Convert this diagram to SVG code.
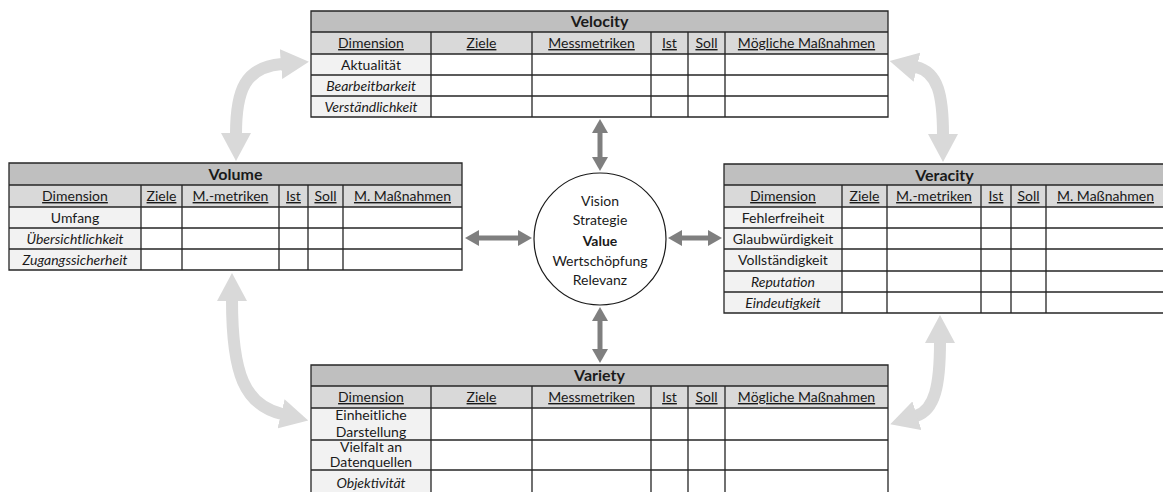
<svg xmlns="http://www.w3.org/2000/svg" width="1163" height="492" viewBox="0 0 1163 492">
  <style>
    .t { font-family: Lato, "Liberation Sans", sans-serif; font-size: 14px; fill: #1a1a1a; text-anchor: middle; }
    .h { text-decoration: underline; }
    .i { font-style: italic; }
    .ttl { font-weight: bold; font-size: 16px; }
    .ft { fill: #bfbfbf; }
    .fh { fill: #d9d9d9; }
    .fd { fill: #f2f2f2; }
    .fw { fill: #ffffff; }
    .grid { fill: none; stroke: #262626; stroke-width: 1.3; }
    .dark { fill: none; stroke: #7f7f7f; stroke-width: 5; marker-start: url(#hd); marker-end: url(#hd); }
    .light { fill: none; stroke: #d9d9d9; stroke-width: 12; marker-start: url(#hl); marker-end: url(#hl); }
  </style>
  <defs>
    <marker id="hd" viewBox="0 0 14 16" refX="1" refY="8" markerWidth="14" markerHeight="16" markerUnits="userSpaceOnUse" orient="auto-start-reverse">
      <path d="M0,0 L14,8 L0,16 Z" fill="#7f7f7f"/>
    </marker>
    <marker id="hl" viewBox="0 0 28 30" refX="1" refY="15" markerWidth="28" markerHeight="30" markerUnits="userSpaceOnUse" orient="auto-start-reverse">
      <path d="M0,0 L28,15 L0,30 Z" fill="#d9d9d9"/>
    </marker>
  </defs>

  <!-- connectors -->
  <g id="connectors">
    <path class="light" d="M236,134 C236,90 245,67 282,64"/>
    <path class="light" d="M232,300 C232,375 245,405 282,414"/>
    <path class="light" d="M943,135 C943,95 938,72 916,67"/>
    <path class="light" d="M940,342 C940,385 935,410 916,416"/>
    <path class="dark" d="M600,132 V158"/>
    <path class="dark" d="M600,320 V350"/>
    <path class="dark" d="M478,238 H519"/>
    <path class="dark" d="M681,238 H709"/>
  </g>

  <!-- Velocity -->
  <g id="velocity">
    <rect class="ft" x="311" y="11" width="577" height="21"/>
    <rect class="fh" x="311" y="32" width="577" height="22"/>
    <rect class="fd" x="311" y="54" width="120" height="63"/>
    <rect class="fw" x="431" y="54" width="457" height="63"/>
    <path class="grid" d="M311,11 H888 V117 H311 Z M311,32 H888 M311,54 H888 M311,75 H888 M311,96 H888 M431,32 V117 M532,32 V117 M651,32 V117 M688,32 V117 M725,32 V117"/>
    <text class="t ttl" x="599.5" y="27">Velocity</text>
    <text class="t h" x="371" y="48">Dimension</text>
    <text class="t h" x="481.5" y="48">Ziele</text>
    <text class="t h" x="591.5" y="48">Messmetriken</text>
    <text class="t h" x="669.5" y="48">Ist</text>
    <text class="t h" x="706.5" y="48">Soll</text>
    <text class="t h" x="806.5" y="48">Mögliche Maßnahmen</text>
    <text class="t" x="371" y="69.5">Aktualität</text>
    <text class="t i" x="371" y="90.5">Bearbeitbarkeit</text>
    <text class="t i" x="371" y="111.5">Verständlichkeit</text>
  </g>

  <!-- Volume -->
  <g id="volume">
    <rect class="ft" x="9" y="163" width="453" height="22"/>
    <rect class="fh" x="9" y="185" width="453" height="22"/>
    <rect class="fd" x="9" y="207" width="132" height="63"/>
    <rect class="fw" x="141" y="207" width="321" height="63"/>
    <path class="grid" d="M9,163 H462 V270 H9 Z M9,185 H462 M9,207 H462 M9,228 H462 M9,249 H462 M141,185 V270 M182,185 V270 M279,185 V270 M308,185 V270 M343,185 V270"/>
    <text class="t ttl" x="235.5" y="180">Volume</text>
    <text class="t h" x="75" y="201">Dimension</text>
    <text class="t h" x="161.5" y="201">Ziele</text>
    <text class="t h" x="230.5" y="201">M.-metriken</text>
    <text class="t h" x="293.5" y="201">Ist</text>
    <text class="t h" x="325.5" y="201">Soll</text>
    <text class="t h" x="402.5" y="201">M. Maßnahmen</text>
    <text class="t" x="75" y="222.5">Umfang</text>
    <text class="t i" x="75" y="243.5">Übersichtlichkeit</text>
    <text class="t i" x="75" y="264.5">Zugangssicherheit</text>
  </g>

  <!-- Veracity -->
  <g id="veracity">
    <rect class="ft" x="724" y="164" width="441" height="21"/>
    <rect class="fh" x="724" y="185" width="441" height="22"/>
    <rect class="fd" x="724" y="207" width="118" height="106"/>
    <rect class="fw" x="842" y="207" width="323" height="106"/>
    <path class="grid" d="M1165,164 H724 V313 H1165 M724,185 H1165 M724,207 H1165 M724,228 H1165 M724,249 H1165 M724,271 H1165 M724,292 H1165 M842,185 V313 M887,185 V313 M981,185 V313 M1011,185 V313 M1046,185 V313"/>
    <text class="t ttl" x="944.5" y="180.5">Veracity</text>
    <text class="t h" x="783" y="201">Dimension</text>
    <text class="t h" x="864.5" y="201">Ziele</text>
    <text class="t h" x="934" y="201">M.-metriken</text>
    <text class="t h" x="996" y="201">Ist</text>
    <text class="t h" x="1028.5" y="201">Soll</text>
    <text class="t h" x="1105.5" y="201">M. Maßnahmen</text>
    <text class="t" x="783" y="222.5">Fehlerfreiheit</text>
    <text class="t" x="783" y="243.5">Glaubwürdigkeit</text>
    <text class="t" x="783" y="265">Vollständigkeit</text>
    <text class="t i" x="783" y="286.5">Reputation</text>
    <text class="t i" x="783" y="307.5">Eindeutigkeit</text>
  </g>

  <!-- Variety -->
  <g id="variety">
    <rect class="ft" x="311" y="365" width="577" height="21"/>
    <rect class="fh" x="311" y="386" width="577" height="22"/>
    <rect class="fd" x="311" y="408" width="120" height="90"/>
    <rect class="fw" x="431" y="408" width="457" height="90"/>
    <path class="grid" d="M311,498 V365 H888 V498 M311,386 H888 M311,408 H888 M311,440 H888 M311,470 H888 M431,386 V498 M532,386 V498 M651,386 V498 M688,386 V498 M725,386 V498"/>
    <text class="t ttl" x="599.5" y="381">Variety</text>
    <text class="t h" x="371" y="402">Dimension</text>
    <text class="t h" x="481.5" y="402">Ziele</text>
    <text class="t h" x="591.5" y="402">Messmetriken</text>
    <text class="t h" x="669.5" y="402">Ist</text>
    <text class="t h" x="706.5" y="402">Soll</text>
    <text class="t h" x="806.5" y="402">Mögliche Maßnahmen</text>
    <text class="t" x="371" y="420">Einheitliche</text>
    <text class="t" x="371" y="437">Darstellung</text>
    <text class="t" x="371" y="452">Vielfalt an</text>
    <text class="t" x="371" y="467">Datenquellen</text>
    <text class="t i" x="371" y="488">Objektivität</text>
  </g>

  <!-- Value -->
  <g id="value">
    <circle cx="600" cy="239" r="66" fill="#ffffff" stroke="#1a1a1a" stroke-width="1.2"/>
    <text class="t" x="600" y="205.5">Vision</text>
    <text class="t" x="600" y="224.5">Strategie</text>
    <text class="t" x="600" y="246" font-weight="bold" font-size="17">Value</text>
    <text class="t" x="600" y="266">Wertschöpfung</text>
    <text class="t" x="600" y="285">Relevanz</text>
  </g>
</svg>
